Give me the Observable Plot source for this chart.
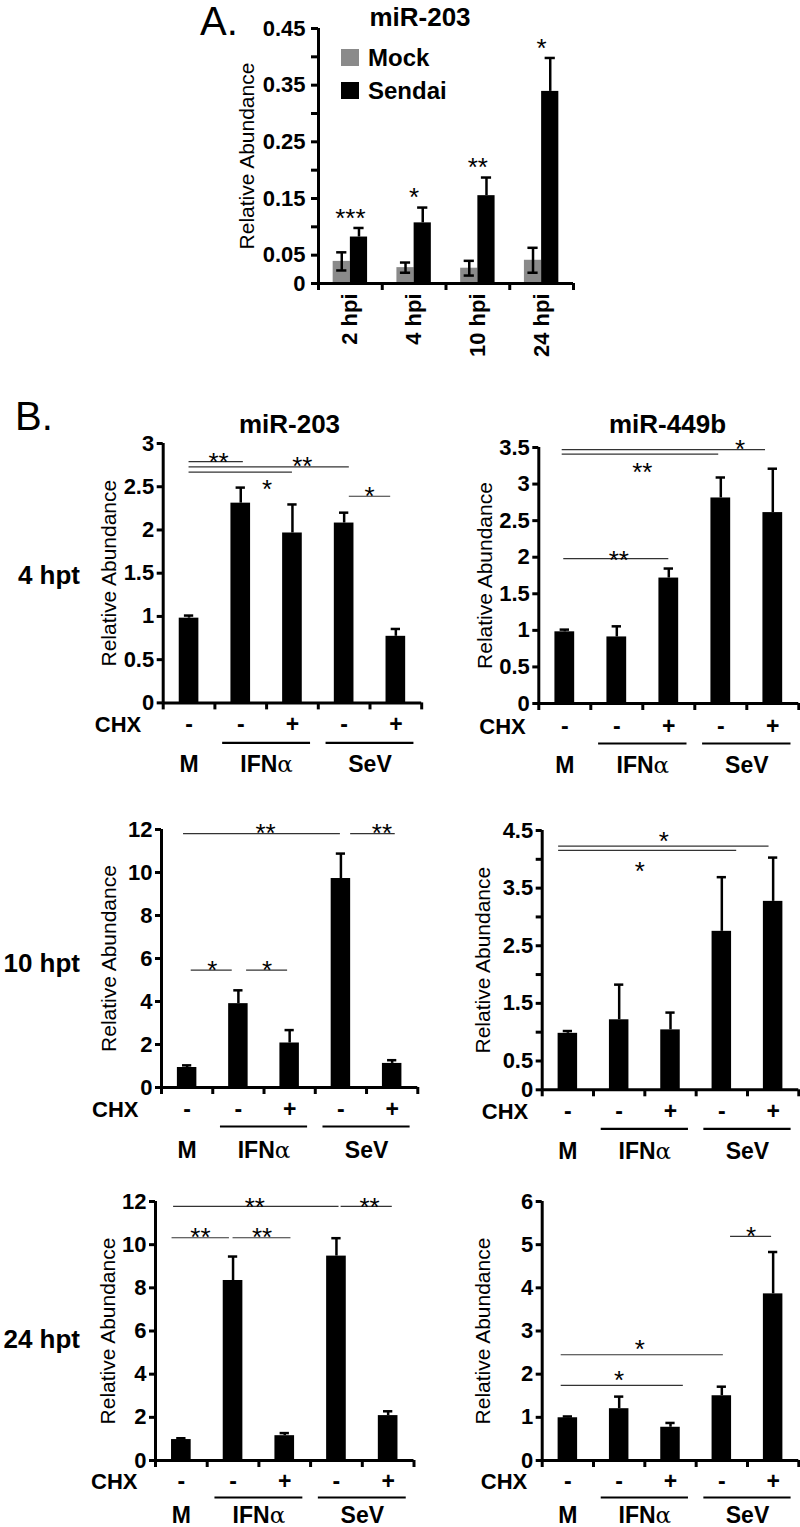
<!DOCTYPE html>
<html><head><meta charset="utf-8">
<script src="https://cdn.jsdelivr.net/npm/d3@7"></script>
<script src="https://cdn.jsdelivr.net/npm/@observablehq/plot@0.6"></script>
<style>
html,body{margin:0;padding:0;background:#fff;overflow:hidden;}
#fig{position:relative;width:800px;height:1527px;overflow:hidden;font-family:"Liberation Sans",Arial,sans-serif;color:#000;}
#fig svg{position:absolute;overflow:visible;}
#fig svg text{font-family:"Liberation Sans",Arial,sans-serif;}
g[aria-label="y-axis tick label"] text{font-weight:bold;}
.lbl{position:absolute;white-space:nowrap;line-height:1;}
</style></head><body><div id="fig"></div>
<script>
// ---------- Panel A data ----------
const hpi = ["2 hpi", "4 hpi", "10 hpi", "24 hpi"];
const seriesA = ["Mock", "Sendai"];
const mockVal = [0.039, 0.028, 0.027, 0.041];
const mockErr = [0.016, 0.009, 0.013, 0.022];
const sendaiVal = [0.082, 0.107, 0.155, 0.339];
const sendaiErr = [0.016, 0.027, 0.032, 0.059];
const starsA = ["***", "*", "**", "*"];
const yTicksA = [0, 0.05, 0.1, 0.15, 0.2, 0.25, 0.3, 0.35, 0.4, 0.45];
const yLabelsA = [0, 0.05, 0.15, 0.25, 0.35, 0.45];

// ---------- Panel B data ----------
const conditions = ["M", "IFNα", "IFNα + CHX", "SeV", "SeV + CHX"];
const chx = ["-", "-", "+", "-", "+"];
const groupNames = ["M", "IFNα", "SeV"];
const groupFirst = [1, 2, 4];
const groupLast = [1, 3, 5];
const timepoints = ["4 hpt", "10 hpt", "24 hpt"];
const mirnas = ["miR-203", "miR-449b"];

const mir203_4 = [0.98, 2.31, 1.965, 2.08, 0.77];
const mir203_4err = [0.03, 0.18, 0.33, 0.12, 0.085];
const mir449b_4 = [0.98, 0.91, 1.715, 2.81, 2.61];
const mir449b_4err = [0.03, 0.145, 0.13, 0.28, 0.60];
const mir203_10 = [0.93, 3.9, 2.07, 9.72, 1.12];
const mir203_10err = [0.1, 0.62, 0.6, 1.16, 0.15];
const mir449b_10 = [0.98, 1.215, 1.04, 2.75, 3.27];
const mir449b_10err = [0.04, 0.61, 0.3, 0.94, 0.76];
const mir203_24 = [0.97, 8.34, 1.15, 9.47, 2.08];
const mir203_24err = [0.06, 1.11, 0.12, 0.83, 0.2];
const mir449b_24 = [0.99, 1.2, 0.77, 1.5, 3.86];
const mir449b_24err = [0.03, 0.28, 0.1, 0.21, 0.97];

const ticks3 = [0, 0.5, 1, 1.5, 2, 2.5, 3];
const ticks35 = [0, 0.5, 1, 1.5, 2, 2.5, 3, 3.5];
const ticks12 = [0, 2, 4, 6, 8, 10, 12];
const ticks45 = [0, 0.5, 1, 1.5, 2, 2.5, 3, 3.5, 4, 4.5];
const labels45 = [0, 0.5, 1.5, 2.5, 3.5, 4.5];
const ticks6 = [0, 1, 2, 3, 4, 5, 6];

// significance brackets: from/to (condition position), level, label, label position
const sig203_4 = [
  {x1: 1, x2: 2.05, y: 2.79, label: "**", lx: 1.57, ly: 2.86},
  {x1: 1, x2: 4.1, y: 2.73, label: "**", lx: 3.19, ly: 2.81},
  {x1: 1, x2: 3.0, y: 2.67, label: "*", lx: 2.51, ly: 2.55},
  {x1: 4.1, x2: 4.9, y: 2.39, label: "*", lx: 4.49, ly: 2.47}
];
const sig449b_4 = [
  {x1: 0.95, x2: 4.86, y: 3.47, label: "*", lx: 4.37, ly: 3.57},
  {x1: 0.95, x2: 3.96, y: 3.41, label: "**", lx: 2.49, ly: 3.25},
  {x1: 0.98, x2: 3.0, y: 1.98, label: "**", lx: 2.04, ly: 2.05}
];
const sig203_10 = [
  {x1: 0.93, x2: 3.99, y: 11.81, label: "**", lx: 2.53, ly: 12.12},
  {x1: 4.19, x2: 5.06, y: 11.81, label: "**", lx: 4.8, ly: 12.12},
  {x1: 1.08, x2: 1.88, y: 5.46, label: "*", lx: 1.49, ly: 5.78},
  {x1: 2.16, x2: 2.96, y: 5.46, label: "*", lx: 2.56, ly: 5.78}
];
const sig449b_10 = [
  {x1: 0.82, x2: 4.92, y: 4.23, label: "*", lx: 2.87, ly: 4.42},
  {x1: 0.82, x2: 4.29, y: 4.155, label: "*", lx: 2.40, ly: 3.91}
];
const sig203_24 = [
  {x1: 0.85, x2: 4.05, y: 11.77, label: "**", lx: 2.42, ly: 12.05},
  {x1: 4.09, x2: 5.08, y: 11.77, label: "**", lx: 4.64, ly: 12.05},
  {x1: 0.82, x2: 1.93, y: 10.32, label: "**", lx: 1.37, ly: 10.66},
  {x1: 2.0, x2: 3.12, y: 10.32, label: "**", lx: 2.56, ly: 10.66}
];
const sig449b_24 = [
  {x1: 4.17, x2: 4.97, y: 5.19, label: "*", lx: 4.57, ly: 5.34},
  {x1: 0.87, x2: 4.03, y: 2.45, label: "*", lx: 2.40, ly: 2.72},
  {x1: 0.87, x2: 3.25, y: 1.74, label: "*", lx: 2.0, ly: 2.02}
];

// ---------- layout (pixels) ----------
const FONT = '"Liberation Sans", Arial, sans-serif';
const fig = document.getElementById("fig");

function place(svg, left, top) {
  svg.style.position = "absolute";
  svg.style.left = left + "px";
  svg.style.top = top + "px";
  svg.style.maxWidth = "none";
  svg.style.background = "transparent";
  fig.appendChild(svg);
}
function label(text, {left, baseline, size, weight = "normal", width, align = "left"}) {
  const d = document.createElement("div");
  d.className = "lbl";
  d.textContent = text;
  d.style.fontSize = size + "px";
  d.style.fontWeight = weight;
  d.style.top = (baseline - 0.8465 * size) + "px";
  d.style.left = left + "px";
  if (width) { d.style.width = width + "px"; d.style.textAlign = align; }
  fig.appendChild(d);
  return d;
}
function fixAlpha(svg) {
  svg.querySelectorAll("text").forEach(t => {
    if (t.textContent === "IFNα" && t.children.length === 0) {
      t.textContent = "IFN";
      const ts = document.createElementNS("http://www.w3.org/2000/svg", "tspan");
      ts.setAttribute("font-family", "DejaVu Serif");
      ts.setAttribute("font-weight", "normal");
      ts.textContent = "α";
      t.appendChild(ts);
    }
  });
}

// ---------- Panel A ----------
{
  const L = {left: 200, w: 400, ax: 318, rx: 573, ty: 28, by: 283, mb: 87};
  const aData = [];
  hpi.forEach((h, i) => {
    aData.push({pos: i + 1, series: seriesA[0], value: mockVal[i], err: mockErr[i], side: -1});
    aData.push({pos: i + 1, series: seriesA[1], value: sendaiVal[i], err: sendaiErr[i], side: 1});
  });
  const bw = 0.27, cap = 0.08;
  const ctr = d => d.pos + d.side * bw / 2;
  const mockD = aData.filter(d => d.side < 0);
  const stars = hpi.map((h, i) => ({pos: i + 1, y: sendaiVal[i] + sendaiErr[i], label: starsA[i]}));
  const svg = Plot.plot({
    width: L.w, height: (L.by - L.ty) + L.ty + L.mb,
    marginLeft: L.ax - L.left, marginRight: L.left + L.w - L.rx, marginTop: L.ty, marginBottom: L.mb,
    x: {domain: [0.5, 4.5], label: null},
    y: {domain: [0, 0.45], label: null},
    color: {domain: seriesA, range: ["#8a8a8a", "#000000"]},
    style: {fontFamily: FONT, color: "black", background: "transparent", overflow: "visible"},
    marks: [
      Plot.rectY(aData, {x1: d => d.side < 0 ? d.pos - bw : d.pos, x2: d => d.side < 0 ? d.pos : d.pos + bw, y1: 0, y2: "value", fill: "series"}),
      Plot.ruleX(aData, {x: ctr, y1: d => d.side < 0 ? d.value - d.err : d.value, y2: d => d.value + d.err, stroke: "black", strokeWidth: 2.5}),
      Plot.ruleY(aData, {x1: d => ctr(d) - cap, x2: d => ctr(d) + cap, y: d => d.value + d.err, stroke: "black", strokeWidth: 2.5}),
      Plot.ruleY(mockD, {x1: d => ctr(d) - cap, x2: d => ctr(d) + cap, y: d => d.value - d.err, stroke: "black", strokeWidth: 2.5}),
      Plot.text(stars, {x: "pos", y: "y", text: "label", fontSize: 26, dy: -9.5}),
      Plot.axisY({ticks: yTicksA, tickFormat: d => yLabelsA.includes(d) ? String(d) : "", tickSize: 7, tickPadding: 6, strokeWidth: 3, fontSize: 22, fontWeight: "bold", label: null}),
      Plot.axisX({ticks: [0.5, 1.5, 2.5, 3.5, 4.5], tickFormat: () => "", tickSize: 7, strokeWidth: 3, label: null}),
      Plot.ruleX([0.5], {strokeWidth: 3}),
      Plot.ruleY([0], {strokeWidth: 3}),
      Plot.text(hpi, {x: (d, i) => i + 1, text: d => d, frameAnchor: "bottom", rotate: -90, textAnchor: "end", lineAnchor: "middle", dy: 10, fontSize: 22, fontWeight: "bold"}),
      Plot.text(["Relative Abundance"], {text: d => d, frameAnchor: "left", rotate: -90, textAnchor: "middle", lineAnchor: "middle", dx: -71, fontSize: 21})
    ]
  });
  place(svg, L.left, 0);
  label("A.", {left: 200, baseline: 35, size: 40});
  label("miR-203", {left: 420 - 150, width: 300, align: "center", baseline: 26, size: 26, weight: "bold"});
  // legend
  const sw = [[49, "#8a8a8a"], [82, "#000000"]];
  seriesA.forEach((s, i) => {
    const b = document.createElement("div");
    b.style.cssText = `position:absolute;left:341px;top:${sw[i][0]}px;width:18px;height:17px;background:${sw[i][1]};`;
    fig.appendChild(b);
    label(s, {left: 368, baseline: sw[i][0] + 17, size: 24, weight: "bold"});
  });
}

// ---------- Panel B ----------
const charts = [
  {row: 0, col: 0, values: mir203_4, errs: mir203_4err, ymax: 3, ticks: ticks3, labels: ticks3, sig: sig203_4},
  {row: 0, col: 1, values: mir449b_4, errs: mir449b_4err, ymax: 3.5, ticks: ticks35, labels: ticks35, sig: sig449b_4},
  {row: 1, col: 0, values: mir203_10, errs: mir203_10err, ymax: 12, ticks: ticks12, labels: ticks12, sig: sig203_10},
  {row: 1, col: 1, values: mir449b_10, errs: mir449b_10err, ymax: 4.5, ticks: ticks45, labels: labels45, sig: sig449b_10},
  {row: 2, col: 0, values: mir203_24, errs: mir203_24err, ymax: 12, ticks: ticks12, labels: ticks12, sig: sig203_24},
  {row: 2, col: 1, values: mir449b_24, errs: mir449b_24err, ymax: 6, ticks: ticks6, labels: ticks6, sig: sig449b_24}
];
const layouts = [
  {left: 80, w: 360, ax: 162.7, rx: 421.2, ty: 443.3, by: 702.7, ylab: 54, chxGap: 22, chxDy: 22, lineDy: 40, grpDy: 62},
  {left: 455, w: 345, ax: 538.3, rx: 798.3, ty: 446.7, by: 702.7, ylab: 54, chxGap: 13, chxDy: 23, lineDy: 40, grpDy: 62},
  {left: 80, w: 360, ax: 161, rx: 417.3, ty: 829.3, by: 1087.3, ylab: 52, chxGap: 23, chxDy: 22, lineDy: 39, grpDy: 63},
  {left: 455, w: 345, ax: 541.7, rx: 798.3, ty: 830, by: 1089.3, ylab: 59, chxGap: 14, chxDy: 22, lineDy: 39, grpDy: 62},
  {left: 80, w: 360, ax: 155, rx: 413.5, ty: 1201, by: 1460, ylab: 47, chxGap: 18, chxDy: 21, lineDy: 37, grpDy: 55},
  {left: 455, w: 345, ax: 541.7, rx: 798.3, ty: 1201, by: 1460, ylab: 59, chxGap: 15, chxDy: 21, lineDy: 37, grpDy: 55}
];

charts.forEach((c, k) => {
  const L = layouts[k];
  const mt = 25, mb = 80;
  const data = c.values.map((v, i) => ({pos: i + 1, cond: conditions[i], value: v, err: c.errs[i], chx: chx[i]}));
  const groups = groupNames.map((g, i) => ({name: g, first: groupFirst[i], last: groupLast[i]}));
  const bw = 0.19, cap = 0.09;
  const svg = Plot.plot({
    width: L.w, height: (L.by - L.ty) + mt + mb,
    marginLeft: L.ax - L.left, marginRight: L.left + L.w - L.rx, marginTop: mt, marginBottom: mb,
    x: {domain: [0.5, 5.5], label: null},
    y: {domain: [0, c.ymax], label: null},
    style: {fontFamily: FONT, color: "black", background: "transparent", overflow: "visible"},
    marks: [
      Plot.rectY(data, {x1: d => d.pos - bw, x2: d => d.pos + bw, y1: 0, y2: "value", fill: "black"}),
      Plot.ruleX(data, {x: "pos", y1: "value", y2: d => d.value + d.err, strokeWidth: 2.5}),
      Plot.ruleY(data, {x1: d => d.pos - cap, x2: d => d.pos + cap, y: d => d.value + d.err, strokeWidth: 2.5}),
      Plot.ruleY(c.sig, {x1: "x1", x2: "x2", y: "y", stroke: "#333", strokeWidth: 1.2}),
      Plot.text(c.sig, {x: "lx", y: "ly", text: "label", fontSize: 26, dy: 7}),
      Plot.axisY({ticks: c.ticks, tickFormat: d => c.labels.includes(d) ? String(d) : "", tickSize: 6, tickPadding: 3, strokeWidth: 3, fontSize: 22, fontWeight: "bold", label: null}),
      Plot.axisX({ticks: [0.5, 1.5, 2.5, 3.5, 4.5, 5.5], tickFormat: () => "", tickSize: 7, strokeWidth: 3, label: null}),
      Plot.ruleX([0.5], {strokeWidth: 3}),
      Plot.ruleY([0], {strokeWidth: 3}),
      Plot.text(data, {x: "pos", text: "chx", frameAnchor: "bottom", lineAnchor: "middle", dy: L.chxDy, fontSize: 23, fontWeight: "bold"}),
      Plot.text(["CHX"], {text: d => d, frameAnchor: "bottom-left", textAnchor: "end", lineAnchor: "middle", dx: -L.chxGap, dy: L.chxDy, fontSize: 22, fontWeight: "bold"}),
      Plot.ruleY(groups.filter(g => g.last > g.first), {x1: g => g.first - 0.35, x2: g => g.last + 0.35, y: () => 0, dy: L.lineDy, strokeWidth: 2.2}),
      Plot.text(groups, {x: g => (g.first + g.last) / 2, text: "name", frameAnchor: "bottom", lineAnchor: "middle", dy: L.grpDy, fontSize: 23, fontWeight: "bold"}),
      Plot.text(["Relative Abundance"], {text: d => d, frameAnchor: "left", rotate: -90, textAnchor: "middle", lineAnchor: "middle", dx: -L.ylab, fontSize: 21})
    ]
  });
  fixAlpha(svg);
  place(svg, L.left, L.ty - mt);
});

label("B.", {left: 15, baseline: 430, size: 40});
label(mirnas[0], {left: 289.5 - 150, width: 300, align: "center", baseline: 433, size: 26, weight: "bold"});
label(mirnas[1], {left: 667.5 - 150, width: 300, align: "center", baseline: 433, size: 26, weight: "bold"});
const rowBaselines = [584, 972, 1348];
timepoints.forEach((t, i) => label(t, {left: 0, width: 80, align: "right", baseline: rowBaselines[i], size: 26, weight: "bold"}));
</script>
</body></html>
